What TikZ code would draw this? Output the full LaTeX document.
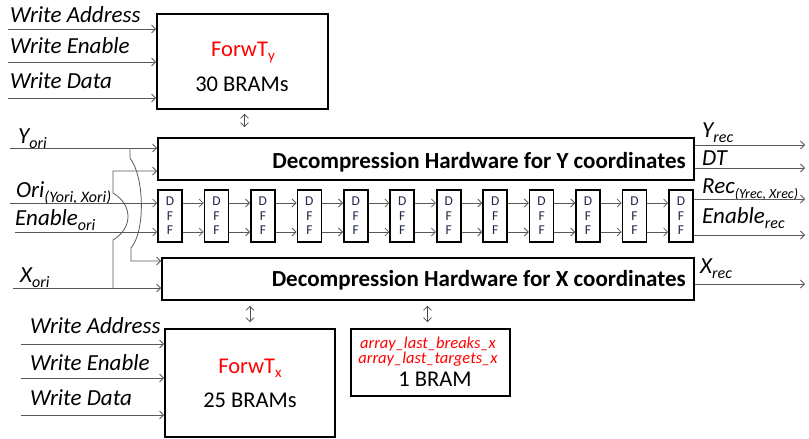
\documentclass[tikz,border=0pt]{standalone}
\usepackage{fontspec}
\setmainfont{Carlito}
\usetikzlibrary{arrows.meta}
\definecolor{dffink}{RGB}{30,40,75}
\newcommand{\sgsub}[2][16]{\raisebox{-0.22em}{\fontsize{#1}{#1}\selectfont #2}}
\tikzset{
    line cap=round,line join=round,
    box/.style={draw=black, line width=1.8pt, fill=white, inner sep=0pt},
    dff/.style={box, line width=1.6pt, minimum width=24pt, minimum height=52pt,
        align=center, text=dffink, font=\fontsize{13.5}{14.5}\selectfont},
    sig/.style={draw=black!65, line width=0.8pt, -{Straight Barb[length=4pt,width=8pt]}},
    dbl/.style={draw=black!70, line width=0.7pt, {Straight Barb[length=4pt,width=8pt]}-{Straight Barb[length=4pt,width=8pt]}},
    lbl/.style={anchor=base west, inner sep=0pt, font=\fontsize{23}{26}\selectfont\itshape},
    boxtxt/.style={anchor=base, inner sep=0pt, font=\fontsize{22.5}{26}\selectfont},
    dectxt/.style={anchor=base east, inner sep=0pt, font=\fontsize{23}{26}\selectfont\bfseries},
    redtxt/.style={anchor=base, inner sep=0pt, text=red, font=\fontsize{16.5}{18}\selectfont\itshape},
}
\begin{document}
\begin{tikzpicture}[x=1pt,y=-1pt]
    \useasboundingbox (0,0) rectangle (809,439);

    \node[box, minimum width=171pt, minimum height=95pt] (forwy) at (242.5,61.5) {};
    \node[box, minimum width=536pt, minimum height=42pt] (decy) at (426,159) {};
    \node[box, minimum width=532pt, minimum height=42pt] (decx) at (428,279) {};
    \node[box, minimum width=170pt, minimum height=108pt] (forwx) at (250,383) {};
    \node[box, minimum width=159pt, minimum height=67pt] (bram) at (430.5,362.5) {};

    \foreach \i in {0,...,11}
        \node[dff] (dff\i) at ({170+46.45*\i},216) {D\\F\\F};

    \node[boxtxt, text=red] (fyname) at (243,56) {ForwT\sgsub[15]{y}};
    \node[boxtxt] (fysize) at (242,91) {30 BRAMs};
    \node[boxtxt, text=red] (fxname) at (250,373) {ForwT\sgsub[15]{x}};
    \node[boxtxt] (fxsize) at (250,407) {25 BRAMs};
    \node[redtxt] (brk) at (428,348) {array\_last\_breaks\_x};
    \node[redtxt] (tgt) at (428,363) {array\_last\_targets\_x};
    \node[boxtxt] (bsize) at (435,386) {1 BRAM};
    \node[dectxt] (dytxt) at (686,168) {Decompression Hardware for Y coordinates};
    \node[dectxt] (dxtxt) at (686,286) {Decompression Hardware for X coordinates};

    \node[lbl] (lwa) at (10,23) {Write Address};
    \node[lbl] (lwe) at (10,53) {Write Enable};
    \node[lbl] (lwd) at (10,88) {Write Data};
    \node[lbl] (lyori) at (18,143) {Y\sgsub{ori}};
    \node[lbl] (lori) at (16,197) {Ori\sgsub{(Yori, Xori)}};
    \node[lbl] (lena) at (15,225) {Enable\sgsub{ori}};
    \node[lbl] (lxori) at (20,282) {X\sgsub{ori}};
    \node[lbl] (lyrec) at (702,137) {Y\sgsub{rec}};
    \node[lbl] (ldt) at (702,165) {DT};
    \node[lbl] (lrec) at (702,193) {Rec\sgsub[14]{(Yrec, Xrec)}};
    \node[lbl] (lenr) at (702,223) {Enable\sgsub{rec}};
    \node[lbl] (lxrec) at (700,273) {X\sgsub{rec}};
    \node[lbl] (lwa2) at (30,333) {Write Address};
    \node[lbl] (lwe2) at (30,370) {Write Enable};
    \node[lbl] (lwd2) at (30,405) {Write Data};

    \coordinate (wa) at (8,29);
    \coordinate (we) at (8,62);
    \coordinate (wd) at (8,98);
    \coordinate (yori) at (10,148);
    \coordinate (ori) at (10,203);
    \coordinate (ena) at (15,232);
    \coordinate (xori) at (13,288);
    \coordinate (wa2) at (21,344);
    \coordinate (we2) at (21,378);
    \coordinate (wd2) at (21,415);
    \coordinate (yrec) at (805,145);
    \coordinate (dt) at (805,168);
    \coordinate (rec) at (805,199);
    \coordinate (enr) at (805,235);
    \coordinate (xrec) at (805,284);
    \coordinate (ytap) at (130,148);
    \coordinate (xtap) at (113,288);

    \draw[sig] (wa) -- (wa -| forwy.west);
    \draw[sig] (we) -- (we -| forwy.west);
    \draw[sig] (wd) -- (wd -| forwy.west);
    \draw[sig] (wa2) -- (wa2 -| forwx.west);
    \draw[sig] (we2) -- (we2 -| forwx.west);
    \draw[sig] (wd2) -- (wd2 -| forwx.west);
    \draw[sig] (yori) -- (yori -| decy.west);
    \draw[sig] (xori) -- (xori -| decx.west);
    \draw[sig] (ori) -- (ori -| dff0.west);
    \draw[sig] (ena) -- (ena -| dff0.west);
    \foreach \i [count=\j] in {0,...,10} {
        \draw[sig] (dff\i.east |- ori) -- (dff\j.west |- ori);
        \draw[sig] (dff\i.east |- ena) -- (dff\j.west |- ena);
    }
    \draw[sig] (yrec -| decy.east) -- (yrec);
    \draw[sig] (dt -| decy.east) -- (dt);
    \draw[sig] (rec -| dff11.east) -- (rec);
    \draw[sig] (enr -| dff11.east) -- (enr);
    \draw[sig] (xrec -| decx.east) -- (xrec);

    \draw[sig] (ytap) -- (130,158) .. controls (145,178) and (145,232) .. (131,248) -- (131,261) -- (decx.west |- 0,261);
    \draw[sig] (xtap) -- (113,240) .. controls (133,228) and (133,205) .. (113,193) -- (113,171) -- (decy.west |- 0,171);

    \draw[dbl] ([yshift=-4pt,xshift=2pt]forwy.south) -- ([yshift=10pt,xshift=2pt]forwy.south |- decy.north);
    \draw[dbl] ([yshift=-5pt]forwx.north |- decx.south) -- ([yshift=6pt]forwx.north);
    \draw[dbl] ([yshift=-5pt,xshift=-3pt]bram.north |- decx.south) -- ([yshift=6pt,xshift=-3pt]bram.north);
\end{tikzpicture}
\end{document}
